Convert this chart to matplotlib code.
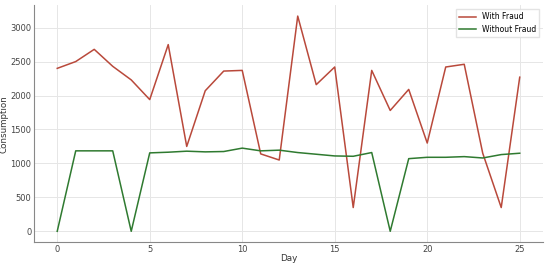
import matplotlib
matplotlib.use("Agg")
from matplotlib import pyplot as plt
import numpy as np

days = list(range(26))
with_fraud = [2400, 2500, 2680, 2430, 2230, 1940, 2750, 1250, 2070, 2360,
              2370, 1140, 1050, 3170, 2160, 2420, 350, 2370, 1780, 2090,
              1300, 2420, 2460, 1150, 350, 2270]
without_fraud = [0, 1185, 1185, 1185, 0, 1155, 1165, 1180, 1170, 1175,
                 1225, 1185, 1195, 1160, 1135, 1110, 1105, 1160, 0, 1070,
                 1090, 1090, 1100, 1080, 1130, 1150]

fig = plt.figure(figsize=(5.5, 2.66), dpi=100)
ax = fig.add_axes([0.062, 0.09, 0.925, 0.89])
ax.plot(days, with_fraud, color='#b9493b', linewidth=1.1, label='With Fraud')
ax.plot(days, without_fraud, color='#2f7a30', linewidth=1.1, label='Without Fraud')

ax.set_xticks([0, 5, 10, 15, 20, 25])
ax.set_yticks(np.arange(0, 3001, 500))
ax.grid(True, color='#e6e6e6', linewidth=0.7)
ax.set_axisbelow(True)
for s in ['top', 'right']:
    ax.spines[s].set_visible(False)
for s in ['left', 'bottom']:
    ax.spines[s].set_color('#888888')
ax.tick_params(labelsize=6.0, colors='#444444', length=0, pad=2)
ax.set_xlabel("Day", fontsize=6.3, color='#333333')
ax.set_ylabel("Consumption", fontsize=6.3, color='#333333')
ax.xaxis.set_label_coords(0.5, -0.05)
ax.yaxis.set_label_coords(-0.051, 0.5)
ax.legend(loc='upper right', fontsize=5.5, frameon=True, edgecolor='#dddddd',
          fancybox=False, handlelength=2.2)
fig.savefig("out.png", dpi=100)
